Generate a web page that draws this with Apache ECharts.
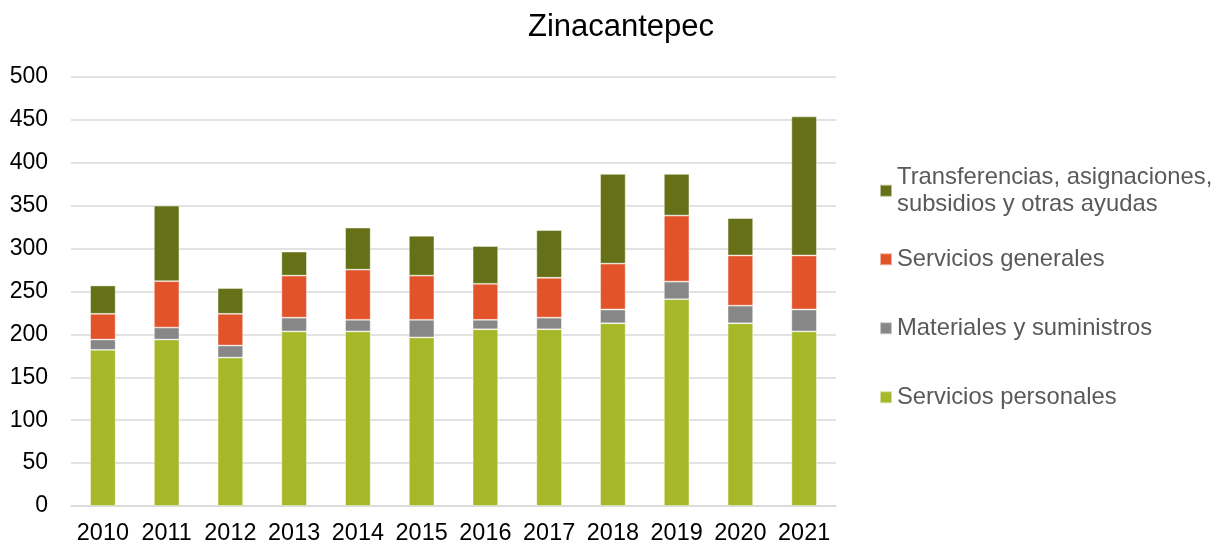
<!DOCTYPE html>
<html>
<head>
<meta charset="utf-8">
<script src="https://cdn.jsdelivr.net/npm/echarts@6/dist/echarts.min.js"></script>
<style>
  html, body { margin: 0; padding: 0; background: #fff; }
  #chart { width: 1223px; height: 547px; }
</style>
</head>
<body>
<div id="chart"></div>
<script>
// datos
const years = ['2010', '2011', '2012', '2013', '2014', '2015', '2016', '2017', '2018', '2019', '2020', '2021']
const serviciosPersonales = [182, 194, 173, 203.5, 203.5, 196.5, 206, 206, 213, 241, 213, 203.5]
const materialesSuministros = [12, 14, 14, 16, 13.5, 20.5, 11, 13.5, 16, 20.5, 20.5, 25.5]
const serviciosGenerales = [30, 54, 37, 49, 58.5, 51.5, 42, 46.5, 53.5, 77, 58.5, 63]
const transferencias = [33, 88, 30, 28, 49, 46.5, 44, 55.5, 104.5, 48.5, 43.5, 162]
const yTicks = [0, 50, 100, 150, 200, 250, 300, 350, 400, 450, 500]

const names = [
  'Servicios personales',
  'Materiales y suministros',
  'Servicios generales',
  'Transferencias, asignaciones, subsidios y otras ayudas'
]
const colors = ['#A6B727', '#878787', '#E2532A', '#667016']
const values = [serviciosPersonales, materialesSuministros, serviciosGenerales, transferencias]

const font = 'Liberation Sans, Arial, sans-serif'
const chart = echarts.init(document.getElementById('chart'))

// una leyenda por serie para poder ubicarlas como en el original
function legendFor(name, top, multi) {
  return {
    data: [name],
    left: 879,
    top: top,
    padding: 0,
    itemWidth: 12,
    itemHeight: 12,
    icon: 'rect',
    selectedMode: false,
    formatter: multi ? 'Transferencias, asignaciones,\nsubsidios y otras ayudas' : '{name}',
    textStyle: {
      fontFamily: font,
      fontSize: 23.8,
      color: '#595959',
      lineHeight: 26.5,
      padding: multi ? [26.5, 0, 0, 0] : 0
    }
  }
}

const option = {
  animation: false,
  title: {
    text: 'Zinacantepec',
    left: 616,
    textAlign: 'center',
    top: 7,
    textStyle: { fontFamily: font, fontSize: 31, fontWeight: 'normal', color: '#000' }
  },
  legend: [
    legendFor(names[3], 151, true),
    legendFor(names[2], 246),
    legendFor(names[1], 315),
    legendFor(names[0], 384)
  ],
  grid: { left: 71, right: 387, top: 77, bottom: 41 },
  xAxis: {
    type: 'category',
    data: years,
    axisTick: { show: false },
    axisLine: { lineStyle: { color: '#D9D9D9', width: 1.5 } },
    axisLabel: { interval: 0, fontFamily: font, fontSize: 23.4, color: '#000', margin: 16 }
  },
  yAxis: {
    type: 'value',
    min: yTicks[0],
    max: yTicks[yTicks.length - 1],
    interval: 50,
    axisLine: { show: false },
    axisTick: { show: false },
    axisLabel: { fontFamily: font, fontSize: 23, color: '#000', margin: 23 },
    splitLine: { lineStyle: { color: '#D9D9D9', width: 1.5 } }
  },
  series: names.map((n, i) => ({
    name: n,
    type: 'bar',
    stack: 'total',
    barWidth: '40%',
    data: values[i],
    itemStyle: {
      color: colors[i],
      borderColor: 'rgba(255,255,255,0.55)',
      borderWidth: 0.8
    }
  }))
}

chart.setOption(option)
</script>
</body>
</html>
